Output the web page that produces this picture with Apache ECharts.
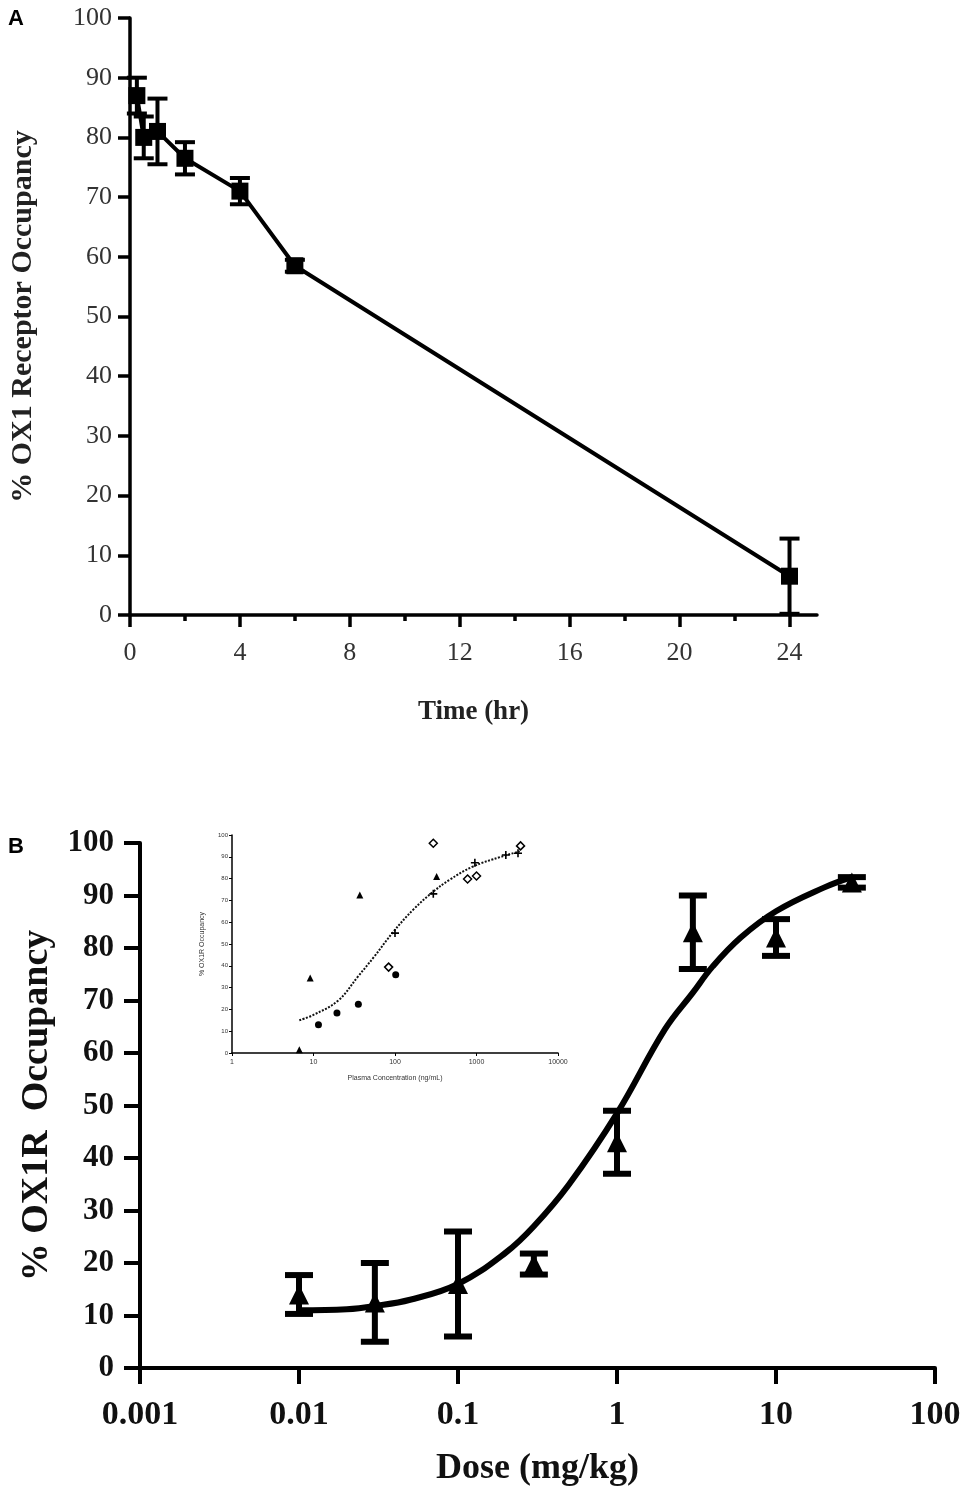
<!DOCTYPE html>
<html>
<head>
<meta charset="utf-8">
<script src="https://cdn.jsdelivr.net/npm/echarts@6/dist/echarts.min.js"></script>
<style>
html,body{margin:0;padding:0;background:#fff;}
#c{width:970px;height:1496px;}
</style>
</head>
<body>
<div id="c"></div>
<script>
// ---- Panel A data ----
const timeA = [0.25, 0.5, 1, 2, 4, 6, 24];
const occA  = [87, 80, 81, 76.5, 71, 58.5, 6.5];
const errA  = [3, 3.5, 5.5, 2.7, 2.2, 1, 6.3];
const ticksAMajor = [0, 4, 8, 12, 16, 20, 24];
const ticksAMinor = [2, 6, 10, 14, 18, 22];

// ---- Panel B data ----
const doseB = [0.01, 0.03, 0.1, 0.3, 1, 3, 10, 30];
const occB  = [14, 12.5, 16, 19.8, 43, 83, 82, 92.5];
const errB  = [3.7, 7.5, 10, 2, 6, 7, 3.5, 1];
const fitDose = [0.01, 0.02, 0.03, 0.05, 0.1, 0.2, 0.3, 0.5, 1, 2, 3, 4, 6, 10, 20, 30];
const fitOcc  = [11, 11.2, 11.8, 13, 16, 22, 27, 35, 48.5, 64.5, 71.5, 76.5, 82, 87, 91.5, 93.5];

// ---- Inset data ----
const insetTriangles = [[6.7, 1.5], [9.1, 34.4], [37, 72.5], [324, 81]];
const insetCircles   = [[11.5, 13], [19.4, 18.3], [35.5, 22.4], [102, 35.9]];
const insetDiamonds  = [[83.5, 39.4], [295, 96.2], [777, 79.8], [1000, 81.2], [3470, 95]];
const insetPlus      = [[100, 55], [295, 73], [955, 87.3], [2290, 90.8], [3230, 91.6]];
const fitConc  = [6.7, 10, 20, 35, 55, 95, 170, 295, 470, 900, 2000, 3400];
const fitInset = [15, 17.5, 24, 35, 44, 55.5, 66, 74, 79.5, 85.5, 90, 92.5];

const serif = '"Liberation Serif", "Times New Roman", serif';
const sans = '"Liberation Sans", Arial, sans-serif';
const fmtNum = v => String(+Number(v).toPrecision(3));

function errRender(capW, lw) {
  return function (params, api) {
    const x = api.value(0), lo = api.value(1), hi = api.value(2);
    if (hi === lo) return null;
    const p1 = api.coord([x, lo]), p2 = api.coord([x, hi]);
    const st = { stroke: '#000', lineWidth: lw };
    return {
      type: 'group',
      children: [
        { type: 'line', shape: { x1: p1[0], y1: p1[1], x2: p2[0], y2: p2[1] }, style: st },
        { type: 'line', shape: { x1: p1[0] - capW / 2, y1: p1[1], x2: p1[0] + capW / 2, y2: p1[1] }, style: st },
        { type: 'line', shape: { x1: p2[0] - capW / 2, y1: p2[1], x2: p2[0] + capW / 2, y2: p2[1] }, style: st }
      ]
    };
  };
}

const chart = echarts.init(document.getElementById('c'), null, { renderer: 'canvas' });

const option = {
  backgroundColor: '#fff',
  animation: false,
  graphic: [
    { type: 'text', left: 8, top: 8, style: { text: 'A', font: 'bold 22px ' + sans, fill: '#000' } },
    { type: 'text', left: 8, top: 836, style: { text: 'B', font: 'bold 22px ' + sans, fill: '#000' } }
  ],
  grid: [
    { left: 130, top: 18, width: 687, height: 597 },
    { left: 140, top: 843, width: 795, height: 525 },
    { left: 232, top: 835, width: 326, height: 218 }
  ],
  xAxis: [
    { // 0: panel A main
      type: 'value', gridIndex: 0, min: 0, max: 25, position: 'bottom',
      axisLine: { lineStyle: { color: '#000', width: 3.5 } },
      axisTick: { customValues: ticksAMajor, length: 12, lineStyle: { color: '#000', width: 3.5 } },
      axisLabel: { customValues: ticksAMajor, fontFamily: serif, fontSize: 26, color: '#333', margin: 25 },
      splitLine: { show: false },
      name: 'Time (hr)', nameLocation: 'middle', nameGap: 84,
      nameTextStyle: { fontFamily: serif, fontWeight: 'bold', fontSize: 27, color: '#222' }
    },
    { // 1: panel A minor ticks
      type: 'value', gridIndex: 0, min: 0, max: 25, position: 'bottom',
      axisLine: { show: false },
      axisTick: { customValues: ticksAMinor, length: 6, lineStyle: { color: '#000', width: 3.5 } },
      axisLabel: { show: false },
      splitLine: { show: false }
    },
    { // 2: panel B
      type: 'log', logBase: 10, gridIndex: 1, min: 0.001, max: 100,
      axisLine: { lineStyle: { color: '#000', width: 4 } },
      axisTick: { length: 16, lineStyle: { color: '#000', width: 4 } },
      axisLabel: { formatter: fmtNum, fontFamily: serif, fontWeight: 'bold', fontSize: 34, color: '#111', margin: 30 },
      splitLine: { show: false },
      minorTick: { show: false },
      name: 'Dose (mg/kg)', nameLocation: 'middle', nameGap: 83,
      nameTextStyle: { fontFamily: serif, fontWeight: 'bold', fontSize: 36, color: '#111' }
    },
    { // 3: inset
      type: 'log', logBase: 10, gridIndex: 2, min: 1, max: 10000,
      axisLine: { lineStyle: { color: '#000', width: 1.5 } },
      axisTick: { length: 3, lineStyle: { color: '#000', width: 1 } },
      axisLabel: { formatter: fmtNum, fontFamily: sans, fontSize: 7, color: '#333', margin: 6 },
      splitLine: { show: false },
      minorTick: { show: false },
      name: 'Plasma Concentration (ng/mL)', nameLocation: 'middle', nameGap: 22,
      nameTextStyle: { fontFamily: sans, fontSize: 7, color: '#333' }
    }
  ],
  yAxis: [
    {
      type: 'value', gridIndex: 0, min: 0, max: 100, interval: 10,
      axisLine: { show: true, lineStyle: { color: '#000', width: 3.5 } },
      axisTick: { show: true, length: 12, lineStyle: { color: '#000', width: 3.5 } },
      axisLabel: { fontFamily: serif, fontSize: 26, color: '#333', margin: 18 },
      splitLine: { show: false },
      name: '% OX1 Receptor Occupancy', nameLocation: 'middle', nameGap: 92,
      nameTextStyle: { fontFamily: serif, fontWeight: 'bold', fontSize: 30, color: '#222' }
    },
    {
      type: 'value', gridIndex: 1, min: 0, max: 100, interval: 10,
      axisLine: { show: true, lineStyle: { color: '#000', width: 4 } },
      axisTick: { show: true, length: 16, lineStyle: { color: '#000', width: 4 } },
      axisLabel: { fontFamily: serif, fontWeight: 'bold', fontSize: 31, color: '#111', margin: 26 },
      splitLine: { show: false },
      name: '% OX1R  Occupancy', nameLocation: 'middle', nameGap: 80,
      nameTextStyle: { fontFamily: serif, fontWeight: 'bold', fontSize: 38, color: '#111' }
    },
    {
      type: 'value', gridIndex: 2, min: 0, max: 100, interval: 10,
      axisLine: { show: true, lineStyle: { color: '#000', width: 1.5 } },
      axisTick: { show: true, length: 3, lineStyle: { color: '#000', width: 1 } },
      axisLabel: { fontFamily: sans, fontSize: 6, color: '#333', margin: 4 },
      splitLine: { show: false },
      name: '% OX1R Occupancy', nameLocation: 'middle', nameGap: 26,
      nameTextStyle: { fontFamily: sans, fontSize: 7, color: '#333' }
    }
  ],
  series: [
    // Panel A
    {
      type: 'custom', xAxisIndex: 0, yAxisIndex: 0,
      renderItem: errRender(20, 4),
      data: timeA.map((t, i) => [t, occA[i] - errA[i], occA[i] + errA[i]]),
      z: 3
    },
    {
      type: 'line', xAxisIndex: 0, yAxisIndex: 0,
      data: timeA.map((t, i) => [t, occA[i]]),
      symbol: 'rect', symbolSize: 17,
      itemStyle: { color: '#000', opacity: 1 },
      lineStyle: { color: '#000', width: 4 },
      z: 4
    },
    // Panel B
    {
      type: 'line', xAxisIndex: 2, yAxisIndex: 1,
      data: fitDose.map((d, i) => [d, fitOcc[i]]),
      smooth: 0.4, showSymbol: false, symbol: 'none',
      lineStyle: { color: '#000', width: 6 },
      z: 3
    },
    {
      type: 'custom', xAxisIndex: 2, yAxisIndex: 1,
      renderItem: errRender(28, 6),
      data: doseB.map((d, i) => [d, occB[i] - errB[i], occB[i] + errB[i]]),
      z: 4
    },
    {
      type: 'scatter', xAxisIndex: 2, yAxisIndex: 1,
      data: doseB.map((d, i) => [d, occB[i]]),
      symbol: 'triangle', symbolSize: 20,
      itemStyle: { color: '#000', opacity: 1 },
      z: 5
    },
    // Inset
    {
      type: 'line', xAxisIndex: 3, yAxisIndex: 2,
      data: fitConc.map((c, i) => [c, fitInset[i]]),
      smooth: 0.4, showSymbol: false, symbol: 'none',
      lineStyle: { color: '#111', width: 2, type: [2, 1.5] },
      z: 3
    },
    {
      type: 'scatter', xAxisIndex: 3, yAxisIndex: 2, data: insetTriangles,
      symbol: 'triangle', symbolSize: 7, itemStyle: { color: '#000', opacity: 1 }, z: 4
    },
    {
      type: 'scatter', xAxisIndex: 3, yAxisIndex: 2, data: insetCircles,
      symbol: 'circle', symbolSize: 7, itemStyle: { color: '#000', opacity: 1 }, z: 4
    },
    {
      type: 'scatter', xAxisIndex: 3, yAxisIndex: 2, data: insetDiamonds,
      symbol: 'diamond', symbolSize: 8, itemStyle: { color: '#fff', borderColor: '#000', borderWidth: 1.5, opacity: 1 }, z: 4
    },
    {
      type: 'scatter', xAxisIndex: 3, yAxisIndex: 2, data: insetPlus,
      symbol: 'path://M4,0H6V4H10V6H6V10H4V6H0V4H4Z', symbolSize: 8, itemStyle: { color: '#000', opacity: 1 }, z: 4
    }
  ]
};

chart.setOption(option);
</script>
</body>
</html>
